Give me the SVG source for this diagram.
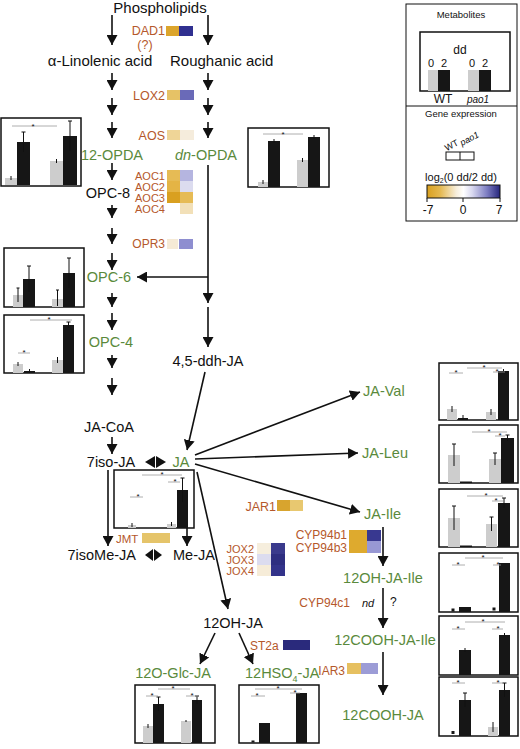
<svg xmlns="http://www.w3.org/2000/svg" width="520" height="749" viewBox="0 0 520 749">
<style>
text{font-family:"Liberation Sans",Arial,sans-serif}
.m{font-size:14.5px;fill:#111}
.gr{font-size:14.5px;fill:#5a8a3c}
.gn{font-size:12px;fill:#b5582b}
.sm{font-size:11px}
.c{text-anchor:middle}
.r{text-anchor:end}
.box{fill:#fff;stroke:#111;stroke-width:1.5}
.g{fill:#cdcdcd}
.k{fill:#161616}
.e{stroke:#111;stroke-width:1;fill:none}
.s{stroke:#999;stroke-width:.8}
.st{font-size:8px;fill:#111;text-anchor:middle}
.ln{stroke:#111;stroke-width:1.6;fill:none}
.ar{stroke:#111;stroke-width:1.6;fill:none;marker-end:url(#a)}
.lg{font-size:9.5px;fill:#111}
</style>
<defs>
<marker id="a" viewBox="0 0 10 10" refX="10" refY="5" markerWidth="10" markerHeight="11" markerUnits="userSpaceOnUse" orient="auto" preserveAspectRatio="none"><path d="M0,0L10,5L0,10z" fill="#111"/></marker>
<linearGradient id="cb" x1="0" y1="0" x2="1" y2="0">
<stop offset="0" stop-color="#d9a01f"/><stop offset=".18" stop-color="#e4b850"/><stop offset=".4" stop-color="#f7eedb"/><stop offset=".5" stop-color="#ffffff"/><stop offset=".62" stop-color="#d8d8ef"/><stop offset=".82" stop-color="#7e7ec2"/><stop offset="1" stop-color="#25257c"/>
</linearGradient>
</defs>
<rect width="520" height="749" fill="#fff"/>

<g id="connectors">
<path class="ar" d="M112,15V45"/><path class="ar" d="M208,15V45"/>
<path class="ar" d="M112,73V90"/><path class="ar" d="M208,73V90"/>
<path class="ar" d="M112,98V115"/><path class="ar" d="M208,98V115"/>
<path class="ar" d="M112,122V138"/><path class="ar" d="M208,122V138"/>
<path class="ar" d="M112,163V180"/>
<path class="ar" d="M112,205V218"/>
<path class="ar" d="M112,228V244"/>
<path class="ar" d="M112,253V270"/>
<path class="ar" d="M112,293V307"/>
<path class="ar" d="M112,313V330"/>
<path class="ar" d="M112,355V368"/>
<path class="ar" d="M112,378V395"/>
<path class="ar" d="M112,437V454"/>
<path class="ar" d="M208,165V303"/>
<path class="ar" d="M208,277H137"/>
<path class="ar" d="M208,307V347"/>
<path class="ar" d="M205,372L187,450"/>
<polygon points="145,462 155,456 155,468" fill="#111"/><polygon points="166,462 156,456 156,468" fill="#111"/>
<path class="ar" d="M108,470V546"/>
<path class="ar" d="M187,528V546"/>
<polygon points="145,555 153,549 153,561" fill="#111"/><polygon points="162,555 154,549 154,561" fill="#111"/>
<path class="ar" d="M197,472L228,609"/>
<path class="ar" d="M195,455L360,392"/>
<path class="ar" d="M195,459L358,453"/>
<path class="ar" d="M195,464L360,512"/>
<path class="ar" d="M383,527V566"/>
<path class="ar" d="M383,588V628"/>
<path class="ar" d="M383,652V695"/>
<path class="ar" d="M215,633L200,664"/>
<path class="ar" d="M239,633L253,664"/>
</g>

<g id="n-phospholipids"><text class="m c" x="160" y="13" style="font-size:15px">Phospholipids</text></g>
<g id="n-linolenic"><text class="m c" x="100" y="66" style="font-size:15px">α-Linolenic acid</text></g>
<g id="n-roughanic"><text class="m" x="170" y="66" style="font-size:15px">Roughanic acid</text></g>

<g id="gene-dad1"><text class="gn r" x="165" y="35" style="font-size:12.5px">DAD1</text><text class="gn c" x="145" y="49" style="font-size:12.5px">(?)</text>
<rect x="166" y="26" width="13" height="10" fill="#dca52c"/><rect x="179" y="26" width="14" height="10" fill="#303090"/></g>
<g id="gene-lox2"><text class="gn r" x="165" y="100" style="font-size:12.5px">LOX2</text>
<rect x="167" y="90" width="13" height="10" fill="#e6c266"/><rect x="180" y="90" width="14" height="10" fill="#6a6ab8"/></g>
<g id="gene-aos"><text class="gn r" x="165" y="140" style="font-size:12.5px">AOS</text>
<rect x="167" y="130" width="13" height="10" fill="#efd597"/><rect x="180" y="130" width="14" height="10" fill="#f5ecdc"/></g>

<g id="n-12opda"><text class="gr c" x="112" y="160">12-OPDA</text></g>
<g id="n-dnopda"><text class="gr c" x="206" y="160"><tspan font-style="italic">dn</tspan>-OPDA</text></g>
<g id="n-opc8"><text class="m c" x="108" y="198">OPC-8</text></g>
<g id="gene-aoc"><text class="gn sm r" x="165" y="180">AOC1</text><text class="gn sm r" x="165" y="191">AOC2</text><text class="gn sm r" x="165" y="202">AOC3</text><text class="gn sm r" x="165" y="213">AOC4</text>
<rect x="167" y="170" width="13" height="11" fill="#e6bb55"/><rect x="180" y="170" width="13" height="11" fill="#b5b5e0"/>
<rect x="167" y="181" width="13" height="11" fill="#e4b445"/><rect x="180" y="181" width="13" height="11" fill="#dcdcef"/>
<rect x="167" y="192" width="13" height="11" fill="#d9a020"/><rect x="180" y="192" width="13" height="11" fill="#e6bb55"/>
<rect x="180" y="203" width="13" height="11" fill="#f2e0b8"/></g>
<g id="gene-opr3"><text class="gn r" x="165" y="248">OPR3</text>
<rect x="167" y="239" width="11" height="10" fill="#f5ead6"/><rect x="179" y="239" width="14" height="10" fill="#8e8ed0"/></g>
<g id="n-opc6"><text class="gr c" x="109" y="282">OPC-6</text></g>
<g id="n-opc4"><text class="gr c" x="111" y="347">OPC-4</text></g>
<g id="n-ddhja"><text class="m c" x="208" y="366">4,5-ddh-JA</text></g>
<g id="n-jacoa"><text class="m c" x="109" y="432">JA-CoA</text></g>
<g id="n-7isoja"><text class="m c" x="111" y="467">7iso-JA</text></g>
<g id="n-ja"><text class="gr c" x="181" y="467">JA</text></g>
<g id="gene-jmt"><text class="gn" x="116" y="543" style="font-size:11.5px">JMT</text><rect x="142" y="533" width="28" height="10" fill="#e5c46a"/></g>
<g id="n-7isomeja"><text class="m r" x="136" y="560">7isoMe-JA</text></g>
<g id="n-meja"><text class="m" x="173" y="560">Me-JA</text></g>
<g id="gene-jox"><text class="gn sm r" x="254" y="553">JOX2</text><text class="gn sm r" x="254" y="564">JOX3</text><text class="gn sm r" x="254" y="575">JOX4</text>
<rect x="257" y="543" width="14" height="11" fill="#f6eedd"/><rect x="271" y="543" width="14" height="11" fill="#3a3a8c"/>
<rect x="257" y="554" width="14" height="11" fill="#dcdcef"/><rect x="271" y="554" width="14" height="11" fill="#2e2e80"/>
<rect x="257" y="565" width="14" height="11" fill="#f6ecd8"/><rect x="271" y="565" width="14" height="11" fill="#33338a"/></g>
<g id="gene-jar1"><text class="gn r" x="276" y="511" style="font-size:12.5px">JAR1</text>
<rect x="277" y="500" width="13" height="11" fill="#d8a42e"/><rect x="290" y="500" width="13" height="11" fill="#e8c870"/></g>
<g id="n-javal"><text class="gr" x="363" y="396">JA-Val</text></g>
<g id="n-jaleu"><text class="gr" x="362" y="458">JA-Leu</text></g>
<g id="n-jaile"><text class="gr" x="364" y="519">JA-Ile</text></g>
<g id="gene-cyp94b"><text class="gn r" x="347" y="539">CYP94b1</text><text class="gn r" x="347" y="552">CYP94b3</text>
<rect x="349" y="530" width="18" height="23" fill="#deaa2e"/><rect x="367" y="530" width="14" height="11" fill="#383890"/><rect x="367" y="541" width="14" height="12" fill="#9898d4"/></g>
<g id="n-12ohjaile"><text class="gr c" x="383" y="583">12OH-JA-Ile</text></g>
<g id="gene-cyp94c1"><text class="gn r" x="350" y="607">CYP94c1</text><text x="362" y="607" style="font-size:11px;font-style:italic;fill:#111">nd</text><text x="390" y="606" style="font-size:12px;fill:#111">?</text></g>
<g id="n-12coohjaile"><text class="gr c" x="385" y="645">12COOH-JA-Ile</text></g>
<g id="gene-iar3"><text class="gn r" x="345" y="675">IAR3</text>
<rect x="347" y="663" width="14" height="11" fill="#e6c060"/><rect x="361" y="663" width="17" height="11" fill="#9c9cd6"/></g>
<g id="n-12coohja"><text class="gr c" x="383" y="720">12COOH-JA</text></g>
<g id="n-12ohja"><text class="m c" x="233" y="628">12OH-JA</text></g>
<g id="gene-st2a"><text class="gn" x="250" y="650">ST2a</text><rect x="283" y="640" width="27" height="10" fill="#2a2a7c"/></g>
<g id="n-12oglcja"><text class="gr c" x="173" y="678">12O-Glc-JA</text></g>
<g id="n-12hso4ja"><text class="gr" x="245" y="678">12HSO<tspan font-size="9" dy="4">4</tspan><tspan dy="-4">-JA</tspan></text></g>

<g id="chart-12opda"><rect class="box" x="1" y="118" width="80" height="68"/>
<rect class="g" x="5" y="178" width="12" height="7"/><rect class="k" x="17" y="142" width="13" height="43"/><rect class="g" x="50" y="161" width="13" height="24"/><rect class="k" x="63" y="136" width="14" height="49"/>
<path class="e" d="M11,176V180M23.5,132V152M21.5,132H25.5M56.5,159V163M70,121V151M68,121H72"/>
<path class="s" d="M12,126H57"/><text class="st" x="33" y="129">*</text></g>

<g id="chart-dnopda"><rect class="box" x="248" y="128" width="81" height="59"/>
<rect class="g" x="258" y="182" width="10" height="5"/><rect class="k" x="268" y="141" width="12" height="46"/><rect class="g" x="297" y="160" width="11" height="27"/><rect class="k" x="308" y="137" width="12" height="50"/>
<path class="e" d="M263,180V184M274,139V143M302.5,158V162M314,135V139"/>
<path class="s" d="M263,134H303"/><text class="st" x="283" y="137">*</text></g>

<g id="chart-opc6"><rect class="box" x="4" y="248" width="80" height="59"/>
<rect class="g" x="13" y="295" width="10" height="12"/><rect class="k" x="23" y="279" width="12" height="28"/><rect class="g" x="52" y="299" width="11" height="8"/><rect class="k" x="63" y="273" width="12" height="34"/>
<path class="e" d="M18,288V302M16.5,288H19.5M29,266V292M27,266H31M57.5,290V306M56,290H59M69,258V288M67,258H71"/></g>

<g id="chart-opc4"><rect class="box" x="4" y="315" width="80" height="58"/>
<rect class="g" x="13" y="364" width="10" height="9"/><rect class="k" x="24" y="371" width="11" height="2"/><rect class="g" x="52" y="360" width="11" height="13"/><rect class="k" x="63" y="325" width="11" height="48"/>
<path class="e" d="M18,362V366M29.5,369V373M57.5,357V363M68.5,322V328M66.5,322H70.5"/>
<path class="s" d="M18,353H30M30,320H72"/><text class="st" x="24" y="355">*</text><text class="st" x="49" y="322">*</text></g>

<g id="chart-ja"><rect class="box" x="114" y="470" width="80" height="58"/>
<rect class="g" x="128" y="525" width="8" height="3"/><rect class="g" x="167" y="524" width="9" height="4"/><rect class="k" x="177" y="490" width="11" height="38"/>
<path class="e" d="M132,523V527M171.5,522V526M182.5,478V502M180.5,478H184.5"/>
<path class="s" d="M142,475H182M168,482H180M130,497H143"/><text class="st" x="162" y="477">*</text><text class="st" x="175" y="484">*</text><text class="st" x="138" y="499">*</text></g>

<g id="chart-javal"><rect class="box" x="439" y="363" width="79" height="57"/>
<rect class="g" x="447" y="409" width="10" height="11"/><rect class="k" x="458" y="418" width="10" height="2"/><rect class="g" x="486" y="412" width="10" height="8"/><rect class="k" x="498" y="371" width="11" height="49"/>
<path class="e" d="M452,406V412M463,415V420M491,409V415M503.5,369V373"/>
<path class="s" d="M449,373H463M467,368H502M493,372H505"/><text class="st" x="456" y="375">*</text><text class="st" x="484" y="370">*</text><text class="st" x="497" y="374">*</text></g>

<g id="chart-jaleu"><rect class="box" x="439" y="425" width="79" height="58"/>
<rect class="g" x="448" y="455" width="12" height="28"/><rect class="k" x="460" y="481.5" width="12" height="1.5"/><rect class="g" x="489" y="459" width="12" height="24"/><rect class="k" x="501" y="438" width="13" height="45"/>
<path class="e" d="M454,444V466M452,444H456M495,453V465M493,453H497M507.5,435V441M505.5,435H509.5"/>
<path class="s" d="M472,432H507M495,436H505"/><text class="st" x="489" y="434">*</text><text class="st" x="500" y="438">*</text></g>

<g id="chart-jaile"><rect class="box" x="439" y="489" width="79" height="58"/>
<rect class="g" x="448" y="518" width="12" height="29"/><rect class="k" x="460" y="545.5" width="12" height="1.5"/><rect class="g" x="486" y="524" width="11" height="23"/><rect class="k" x="498" y="503" width="12" height="44"/>
<path class="e" d="M454,506V530M452,506H456M491.5,517V531M489.5,517H493.5M504,498V508M502,498H506"/>
<path class="s" d="M467,496H503M492,501H503"/><text class="st" x="486" y="498">*</text><text class="st" x="496" y="503">*</text></g>

<g id="chart-12ohjaile"><rect class="box" x="439" y="553" width="79" height="59"/>
<rect class="k" x="451.5" y="608.5" width="3" height="3"/><rect class="k" x="459" y="607" width="12" height="5"/><rect class="k" x="492.5" y="607.5" width="3" height="3"/><rect class="k" x="499" y="563" width="11" height="49"/>
<path class="s" d="M452,565H465M465,558H503M493,565H501"/><text class="st" x="458" y="567">*</text><text class="st" x="483" y="560">*</text><text class="st" x="498" y="567">*</text></g>

<g id="chart-12coohjaile"><rect class="box" x="439" y="616" width="79" height="59"/>
<rect class="k" x="459" y="650" width="12" height="25"/><rect class="k" x="499" y="635" width="11" height="40"/>
<path class="e" d="M465,648V652M504.5,633V637"/>
<path class="s" d="M452,629H465M465,622H505M492,629H503"/><text class="st" x="458" y="631">*</text><text class="st" x="483" y="624">*</text><text class="st" x="498" y="631">*</text></g>

<g id="chart-12coohja"><rect class="box" x="439" y="677" width="79" height="59"/>
<rect class="k" x="451.5" y="731" width="3" height="3"/><rect class="k" x="459" y="700" width="12" height="36"/><rect class="g" x="488" y="727" width="10" height="9"/><rect class="k" x="499" y="690" width="11" height="46"/>
<path class="e" d="M465,693V707M463,693H467M493,722V732M504.5,683V697M502.5,683H506.5"/>
<path class="s" d="M452,683H465M492,683H503"/><text class="st" x="458" y="685">*</text><text class="st" x="498" y="685">*</text></g>

<g id="chart-12oglcja"><rect class="box" x="135" y="685" width="80" height="58"/>
<rect class="g" x="143" y="726" width="10" height="17"/><rect class="k" x="153" y="704" width="11" height="39"/><rect class="g" x="181" y="721" width="10" height="22"/><rect class="k" x="192" y="700" width="10" height="43"/>
<path class="e" d="M148,724V728M158.5,697V711M156.5,697H160.5M186,720V722M197,696V704M195,696H199"/>
<path class="s" d="M146,696H158M158,689H190M186,696H198"/><text class="st" x="152" y="698">*</text><text class="st" x="173" y="691">*</text><text class="st" x="192" y="698">*</text></g>

<g id="chart-12hso4ja"><rect class="box" x="239" y="685" width="80" height="58"/>
<rect class="k" x="251.5" y="740.5" width="3" height="2"/><rect class="k" x="259" y="723" width="11" height="20"/><rect class="k" x="296" y="693" width="11" height="50"/>
<path class="s" d="M251,696H265M255,689H302M290,693H300"/><text class="st" x="257" y="698">*</text><text class="st" x="278" y="691">*</text><text class="st" x="295" y="695">*</text></g>

<g id="legend">
<rect x="406" y="4" width="111" height="217" fill="#fff" stroke="#111" stroke-width="1"/>
<line x1="406" y1="106" x2="517" y2="106" stroke="#111" stroke-width="1"/>
<text class="lg c" x="461" y="18">Metabolites</text>
<rect x="420" y="32" width="90" height="59" fill="#fff" stroke="#111" stroke-width="1.5"/>
<text class="c" x="460" y="54" style="font-size:12px;fill:#111">dd</text>
<text class="c" x="431" y="67" style="font-size:11px;fill:#111">0</text><text class="c" x="444" y="67" style="font-size:11px;fill:#111">2</text>
<text class="c" x="472" y="67" style="font-size:11px;fill:#111">0</text><text class="c" x="485" y="67" style="font-size:11px;fill:#111">2</text>
<rect class="g" x="428" y="70" width="10" height="21"/><rect class="k" x="438" y="70" width="12" height="21"/>
<rect class="g" x="468" y="70" width="11" height="21"/><rect class="k" x="479" y="70" width="12" height="21"/>
<text class="c" x="443" y="103" style="font-size:12px;fill:#111">WT</text>
<text class="c" x="478" y="103" style="font-size:10px;font-style:italic;fill:#111">pao1</text>
<text class="lg c" x="461" y="117">Gene expression</text>
<text class="c" transform="translate(453,148) rotate(-28)" style="font-size:9px;fill:#111">WT</text>
<text transform="translate(462,146) rotate(-28)" style="font-size:9px;font-style:italic;fill:#111">pao1</text>
<rect x="446" y="152" width="28" height="8" fill="#fff" stroke="#111" stroke-width="1"/>
<line x1="460" y1="152" x2="460" y2="160" stroke="#111" stroke-width="1"/>
<text class="c" x="461" y="181" style="font-size:11px;fill:#111">log<tspan font-size="7" dy="2">2</tspan><tspan dy="-2">(0 dd/2 dd)</tspan></text>
<rect x="427" y="185" width="73" height="13" fill="url(#cb)" stroke="#111" stroke-width="1"/>
<path d="M427,198V202M463,198V202M500,198V202" stroke="#111" stroke-width="1"/>
<text class="c" x="428" y="214" style="font-size:12px;fill:#111">-7</text>
<text class="c" x="463" y="214" style="font-size:12px;fill:#111">0</text>
<text class="c" x="499" y="214" style="font-size:12px;fill:#111">7</text>
</g>
</svg>
